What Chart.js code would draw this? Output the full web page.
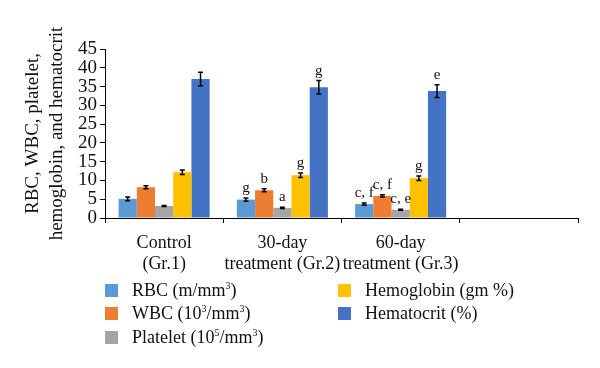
<!DOCTYPE html>
<html>
<head>
<meta charset="utf-8">
<script src="https://cdn.jsdelivr.net/npm/chart.js@4.4.1/dist/chart.umd.min.js"></script>
<style>
  html, body { margin: 0; padding: 0; background: #fff; }
  #wrap { position: relative; width: 600px; height: 368px; }
  canvas { position: absolute; left: 0; top: 0; }
  #legend { position: absolute; left: 105px; top: 279px; width: 480px; font-family: "Liberation Serif", "Times New Roman", serif; font-size: 18px; color: #111; }
  .item { position: absolute; white-space: nowrap; line-height: 22px; }
  .box { position: absolute; left: 0; top: 5px; width: 13px; height: 13px; }
  .txt { position: absolute; left: 27px; top: 0; }
  sup { font-size: 10px; vertical-align: 0; position: relative; top: -7px; }
</style>
</head>
<body>
<div id="wrap">
  <canvas id="c" width="600" height="368"></canvas>
  <div id="legend"></div>
</div>
<script>
// ---- data ----
const categories = [["Control", "(Gr.1)"], ["30-day", "treatment (Gr.2)"], ["60-day", "treatment (Gr.3)"], ""];
const seriesNames = ["RBC (m/mm3)", "WBC (103/mm3)", "Platelet (105/mm3)", "Hemoglobin (gm %)", "Hematocrit (%)"];
const legendHtml = ["RBC (m/mm<sup>3</sup>)", "WBC (10<sup>3</sup>/mm<sup>3</sup>)", "Platelet (10<sup>5</sup>/mm<sup>3</sup>)", "Hemoglobin (gm %)", "Hematocrit (%)"];
const rbc        = [5.1, 4.9, 3.7, null];
const wbc        = [8.2, 7.4, 5.9, null];
const platelet   = [3.2, 2.7, 2.2, null];
const hemoglobin = [12.2, 11.4, 10.6, null];
const hematocrit = [37.0, 34.8, 33.8, null];
const rbcErr        = [0.5, 0.45, 0.3, null];
const wbcErr        = [0.4, 0.4, 0.3, null];
const plateletErr   = [0.15, 0.15, 0.15, null];
const hemoglobinErr = [0.6, 0.6, 0.6, null];
const hematocritErr = [1.8, 1.8, 1.7, null];
const rbcSig        = ["", "g", "c, f", ""];
const wbcSig        = ["", "b", "c, f", ""];
const plateletSig   = ["", "a", "c, e", ""];
const hemoglobinSig = ["", "g", "g", ""];
const hematocritSig = ["", "g", "e", ""];
const yTicks = [0, 5, 10, 15, 20, 25, 30, 35, 40, 45];
const yTitle = ["RBC, WBC, platelet,", "hemoglobin, and hematocrit"];

const colors = ["#5B9BD5", "#ED7D31", "#A5A5A5", "#FFC000", "#4472C4"];
const values = [rbc, wbc, platelet, hemoglobin, hematocrit];
const errs = [rbcErr, wbcErr, plateletErr, hemoglobinErr, hematocritErr];
const sigs = [rbcSig, wbcSig, plateletSig, hemoglobinSig, hematocritSig];
const FONT = '"Liberation Serif", "Times New Roman", serif';

const datasets = values.map((v, i) => ({
  label: seriesNames[i],
  data: v,
  backgroundColor: colors[i],
  borderWidth: 0,
  categoryPercentage: 0.77,
  barPercentage: 1.0,
  errors: errs[i],
  sig: sigs[i]
}));

const errPlugin = {
  id: 'errbars',
  afterDatasetsDraw(chart) {
    const ctx = chart.ctx;
    const y = chart.scales.y;
    chart.data.datasets.forEach((ds, di) => {
      const meta = chart.getDatasetMeta(di);
      meta.data.forEach((el, j) => {
        const v = ds.data[j];
        if (v == null) return;
        const e = ds.errors[j] || 0;
        const yt = y.getPixelForValue(v + e);
        const yb = y.getPixelForValue(v - e);
        ctx.save();
        ctx.strokeStyle = '#000';
        ctx.lineWidth = 1.5;
        ctx.beginPath();
        ctx.moveTo(el.x, yt); ctx.lineTo(el.x, yb);
        ctx.moveTo(el.x - 2.5, yt); ctx.lineTo(el.x + 2.5, yt);
        ctx.moveTo(el.x - 2.5, yb); ctx.lineTo(el.x + 2.5, yb);
        ctx.stroke();
        const s = ds.sig[j];
        if (s) {
          ctx.fillStyle = '#111';
          ctx.font = '15px ' + FONT;
          ctx.textAlign = 'center';
          ctx.textBaseline = 'alphabetic';
          ctx.fillText(s, el.x, yt - 6);
        }
        ctx.restore();
      });
    });
  }
};

new Chart(document.getElementById('c'), {
  type: 'bar',
  data: { labels: categories, datasets },
  options: {
    responsive: false,
    animation: false,
    events: [],
    layout: { padding: { top: 49, right: 22, left: 21, bottom: 0 } },
    plugins: { legend: { display: false }, tooltip: { enabled: false } },
    scales: {
      x: {
        grid: { display: true, drawOnChartArea: false, drawTicks: true, tickLength: 5, color: '#000', offset: true },
        border: { color: '#000', width: 1 },
        ticks: { color: '#111', font: { family: FONT, size: 18 }, maxRotation: 0, autoSkip: false, padding: 9 },
        afterFit(s) { s.height = 150; }
      },
      y: {
        min: 0, max: 45,
        afterBuildTicks(s) { s.ticks = yTicks.map(v => ({ value: v })); },
        grid: { display: true, drawOnChartArea: false, drawTicks: true, tickLength: 5, color: '#000' },
        border: { color: '#000', width: 1 },
        ticks: { color: '#111', font: { family: FONT, size: 19 }, autoSkip: false, padding: 3 },
        title: { display: true, text: yTitle, color: '#111', font: { family: FONT, size: 19, lineHeight: 1.25 }, padding: { top: 0, bottom: 2 } },
        afterFit(s) { s.width = 84; }
      }
    }
  },
  plugins: [errPlugin]
});

// HTML legend (column-major, 2 columns)
const leg = document.getElementById('legend');
const pos = [[0, 0], [0, 23], [0, 47], [233, 0], [233, 23]];
legendHtml.forEach((h, i) => {
  const d = document.createElement('div');
  d.className = 'item';
  d.style.left = pos[i][0] + 'px';
  d.style.top = pos[i][1] + 'px';
  d.innerHTML = '<span class="box" style="background:' + colors[i] + '"></span><span class="txt">' + h + '</span>';
  leg.appendChild(d);
});
</script>
</body>
</html>
